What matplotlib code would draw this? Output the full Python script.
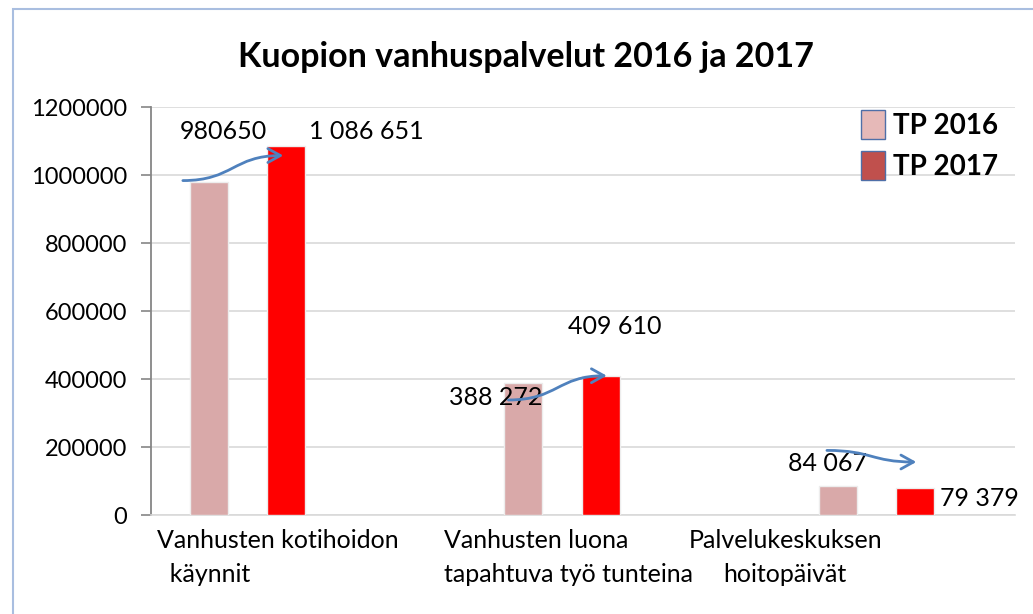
import matplotlib
matplotlib.use("Agg")
import matplotlib.pyplot as plt
from matplotlib.patches import Patch, Rectangle, FancyArrowPatch
from matplotlib.path import Path
import numpy as np

# data
categories = ["Vanhusten kotihoidon\n  käynnit",
              "Vanhusten luona\ntapahtuva työ tunteina",
              "Palvelukeskuksen\nhoitopäivät"]
tp2016 = [980650, 388272, 84067]
tp2017 = [1086651, 409610, 79379]
labels2016 = ["980650", "388 272", "84 067"]
labels2017 = ["1 086 651", "409 610", "79 379"]
yticks = [0, 200000, 400000, 600000, 800000, 1000000, 1200000]

plt.rcParams['font.family'] = ['Lato', 'DejaVu Sans']

W, H = 1033, 614
fig = plt.figure(figsize=(W / 100, H / 100), dpi=100)
ax = fig.add_axes([151 / W, (H - 515) / H, (1015 - 151) / W, (515 - 107) / H])

x = np.arange(len(categories))
bw = 0.121
off = 0.123
ax.bar(x - off, tp2016, bw, color='#D9A9A9', edgecolor='#EDEDED', linewidth=1, zorder=3)
ax.bar(x + off, tp2017, bw, color='#FF0000', edgecolor='#EDEDED', linewidth=1, zorder=3)

ax.set_xlim(-0.307, 2.440)
ax.set_ylim(0, 1200000)
ax.set_yticks(yticks)
ax.set_yticklabels([str(v) for v in yticks], fontsize=17)
ax.yaxis.grid(True, color='#D9D9D9', linewidth=1.2, zorder=0)
ax.set_axisbelow(True)
ax.tick_params(axis='y', length=7, width=1.2, color='#868686', pad=10)
ax.tick_params(axis='x', length=0, pad=10)
for s in ['top', 'right']:
    ax.spines[s].set_visible(False)
ax.spines['left'].set_color('#868686')
ax.spines['left'].set_linewidth(1.3)
ax.spines['bottom'].set_color('#D9D9D9')
ax.spines['bottom'].set_linewidth(1.2)

# category labels (text boxes are not centred on the bars in the original)
ax.set_xticks(x + np.array([0.097, 0.021, -0.291]))
ax.set_xticklabels(categories, fontsize=18)
for t, al in zip(ax.get_xticklabels(), ['left', 'left', 'center']):
    t.set_multialignment(al)
    t.set_linespacing(1.6)

# value labels, offsets in pixels from bar top
off16 = [(15, 50), (-28, -15), (-10, 23)]
off17 = [(80, 14), (14, 49), (64, -10)]
for i in range(len(categories)):
    ax.annotate(labels2016[i], (x[i] - off, tp2016[i]), xytext=(off16[i][0] * 0.72, off16[i][1] * 0.72),
                textcoords='offset points', ha='center', va='center', fontsize=18, zorder=5)
    ax.annotate(labels2017[i], (x[i] + off, tp2017[i]), xytext=(off17[i][0] * 0.72, off17[i][1] * 0.72),
                textcoords='offset points', ha='center', va='center', fontsize=18, zorder=5)

# curved blue arrows from the 2016 bar to the 2017 bar
arr_start = [(-26, -1), (-15, 17), (-11, -36)]   # px from 2016 bar top centre
arr_end = [(-3, 10), (6, 0), (1, -26)]           # px from 2017 bar top centre
for i in range(len(categories)):
    p0 = ax.transData.transform((x[i] - off, tp2016[i]))
    p1 = ax.transData.transform((x[i] + off, tp2017[i]))
    s = (p0[0] + arr_start[i][0], p0[1] - arr_start[i][1])
    e = (p1[0] + arr_end[i][0], p1[1] - arr_end[i][1])
    mx = (s[0] + e[0]) / 2
    path = Path([s, (mx, s[1]), (mx, e[1]), e],
                [Path.MOVETO, Path.CURVE4, Path.CURVE4, Path.CURVE4])
    arr = FancyArrowPatch(path=path, arrowstyle='->,head_length=9,head_width=5',
                          color='#4F81BD', linewidth=2, transform=None, zorder=6)
    fig.add_artist(arr)

fig.text(526 / W, 1 - 57 / H, "Kuopion vanhuspalvelut 2016 ja 2017", ha='center', va='center',
         fontsize=24.5, fontweight='bold')

handles = [Patch(facecolor='#E6B9B8', edgecolor='#4F6FA8', label='TP 2016'),
           Patch(facecolor='#C0504D', edgecolor='#4F6FA8', label='TP 2017')]
ax.legend(handles=handles, loc='upper left', bbox_to_anchor=((836 - 151) / (1015 - 151), 1.055),
          frameon=False, prop={'weight': 'bold', 'size': 20}, handlelength=0.85, handleheight=1.25,
          handletextpad=0.3, labelspacing=0.42)

# chart frame (light blue, only top and left edges visible)
fig.add_artist(Rectangle((13 / W, -0.1), 1.0, (H - 9) / H + 0.1, transform=fig.transFigure,
                         fill=False, edgecolor='#A9BEE0', linewidth=1.5))

fig.savefig("out.png", dpi=100)
